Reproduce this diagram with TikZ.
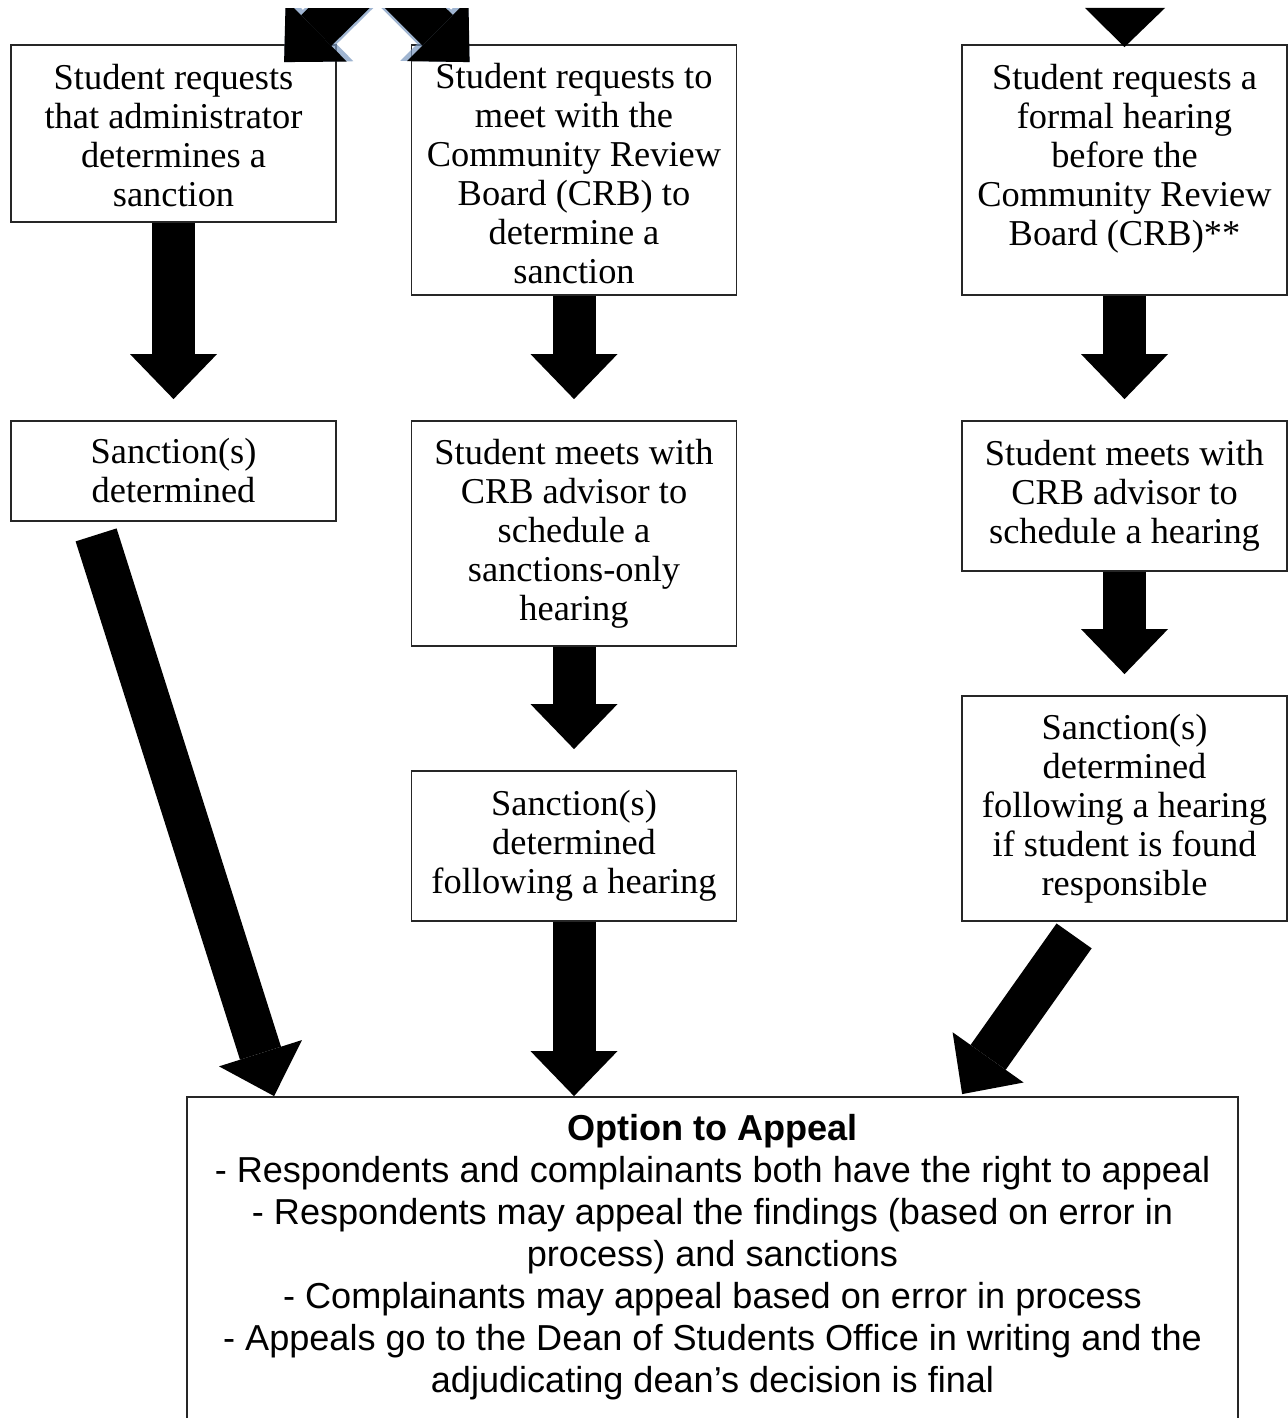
\documentclass[tikz,border=0pt]{standalone}
\usepackage{fontspec}
\setmainfont{Liberation Serif}
\newfontfamily\arialfont{Liberation Sans}
\usetikzlibrary{arrows.meta,calc}
\definecolor{glow}{RGB}{120,150,190}
\begin{document}
\begin{tikzpicture}[x=0.5pt,y=-0.5pt,
  box/.style={draw=black!85,line width=0.9pt,fill=white,align=center,inner sep=0pt,
    minimum width=162.5pt,font=\fontsize{18.2}{19.5}\selectfont},
  blk/.style={line width=21.5pt,-{Triangle[length=22.5pt,width=43.5pt,line width=0pt]},black},
  glowarrow/.style={line width=24pt,-{Triangle[length=25pt,width=48pt,line width=0pt]},glow,opacity=0.7}
]
\useasboundingbox (0,0) rectangle (1288,1418);
\clip (0,0) rectangle (1288,1418);
\fill[white] (0,0) rectangle (1288,1418);

% boxes
\node[box,minimum height=88.5pt] (A1) at (173.5,133.5) {\rule{0pt}{14.5pt}Student requests\\that administrator\\determines a\\sanction};
\node[box,minimum height=125pt] (B1) at (574,170) {\rule{0pt}{16.5pt}Student requests to\\meet with the\\Community Review\\Board (CRB) to\\determine a\\sanction};
\node[box,minimum height=125pt] (C1) at (1124.5,170) {\rule{0pt}{16.5pt}Student requests a\\formal hearing\\before the\\Community Review\\Board (CRB)**\\\mbox{}};
\node[box,minimum height=50pt] (A2) at (173.5,471) {Sanction(s)\\determined};
\node[box,minimum height=112.5pt] (B2) at (574,533.5) {Student meets with\\CRB advisor to\\schedule a\\sanctions-only\\hearing};
\node[box,minimum height=75pt] (C2) at (1124.5,496) {Student meets with\\CRB advisor to\\schedule a hearing};
\node[box,minimum height=75pt] (B3) at (574,846) {Sanction(s)\\determined\\following a hearing};
\node[box,minimum height=112.5pt] (C3) at (1124.5,808.5) {Sanction(s)\\determined\\following a hearing\\if student is found\\responsible};

\node[draw=black!85,line width=0.9pt,fill=white,minimum width=525.5pt,minimum height=170pt,inner sep=0pt] (D) at (712.5,1267) {};
\node[anchor=north,align=center,inner sep=0pt,font=\arialfont\fontsize{18.05}{21}\selectfont] (Dt) at ($(D.north)+(0,18)$)
 {\textbf{Option to Appeal}\\
  - Respondents and complainants both have the right to appeal\\
  - Respondents may appeal the findings (based on error in\\
  process) and sanctions\\
  - Complainants may appeal based on error in process\\
  - Appeals go to the Dean of Students Office in writing and the\\
  adjudicating dean’s decision is final};

% top arrows (from element above, cut off)
\coordinate (s1) at (398,-50);
\coordinate (t1) at ($(A1.north west)+(274,18)$);
\coordinate (s2) at (357,-50);
\coordinate (t2) at ($(B1.north west)+(59,18)$);
\begin{scope}
\clip (0,9) rectangle (1288,1418);
\draw[glowarrow] (s1) -- (t1);
\draw[glowarrow] (s2) -- (t2);
\draw[blk] (s1) -- (t1);
\draw[blk] (s2) -- (t2);
\end{scope}
\fill (1085,8) -- (1165,8) -- ($(C1.north)+(0,3)$) -- cycle;

% vertical arrows
\draw[blk,shorten >=10.5pt] (A1.south) -- (A2.north);
\draw[blk,shorten >=10.5pt] (B1.south) -- (B2.north);
\draw[blk,shorten >=10.5pt] (C1.south) -- (C2.north);
\draw[blk,shorten >=10.5pt] (B2.south) -- (B3.north);
\draw[blk,shorten >=10.5pt] (C2.south) -- (C3.north);
\draw[blk] (B3.south) -- (B3.south |- D.north);

% diagonal arrows
\coordinate (a2s) at ($(A2.south west)+(86,13)$);
\coordinate (a2t) at ($(D.north west)+(88,0)$);
\draw[blk] (a2s) -- (a2t);
\coordinate (c3s) at ($(C3.south west)+(113,14)$);
\coordinate (c3t) at ($(D.north west)+(776,-2)$);
\draw[blk] (c3s) -- (c3t);
\end{tikzpicture}
\end{document}
